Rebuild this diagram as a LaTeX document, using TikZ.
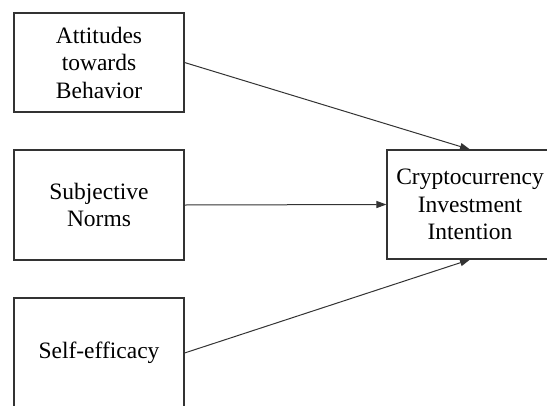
\documentclass[tikz,border=0pt]{standalone}
\usepackage{fontspec}
\setmainfont{Liberation Serif}
\usetikzlibrary{arrows.meta}

\begin{document}
\begin{tikzpicture}[x=1pt, y=-1pt,
		factor/.style={draw=black!80, line width=1.1pt, minimum width=170pt, minimum height=110pt, align=center, inner sep=0pt, font=\fontsize{23.5}{27.5}\selectfont},
		outcome/.style={factor, minimum width=166pt, minimum height=109pt},
		link/.style={->, draw=black!80, line width=1pt},
		>={Triangle[length=10pt, width=7pt]}
	]
	\useasboundingbox (0,0) rectangle (547,405);
	\clip (0,0) rectangle (547,405);

	\node[factor, minimum height=99pt] (att) at (99,62.5) {Attitudes\\towards\\Behavior};
	\node[factor] (sub) at (99,205) {Subjective\\Norms};
	\node[factor] (self) at (99,353) {Self-efficacy};

	\node[outcome] (cii) at (470,204.5) {Cryptocurrency\\Investment\\Intention};

	\draw[link] (att.east) -- (cii.north);
	\draw[link] (sub.east) -- (cii.west);
	\draw[link] (self.east) -- (cii.south);
\end{tikzpicture}
\end{document}
